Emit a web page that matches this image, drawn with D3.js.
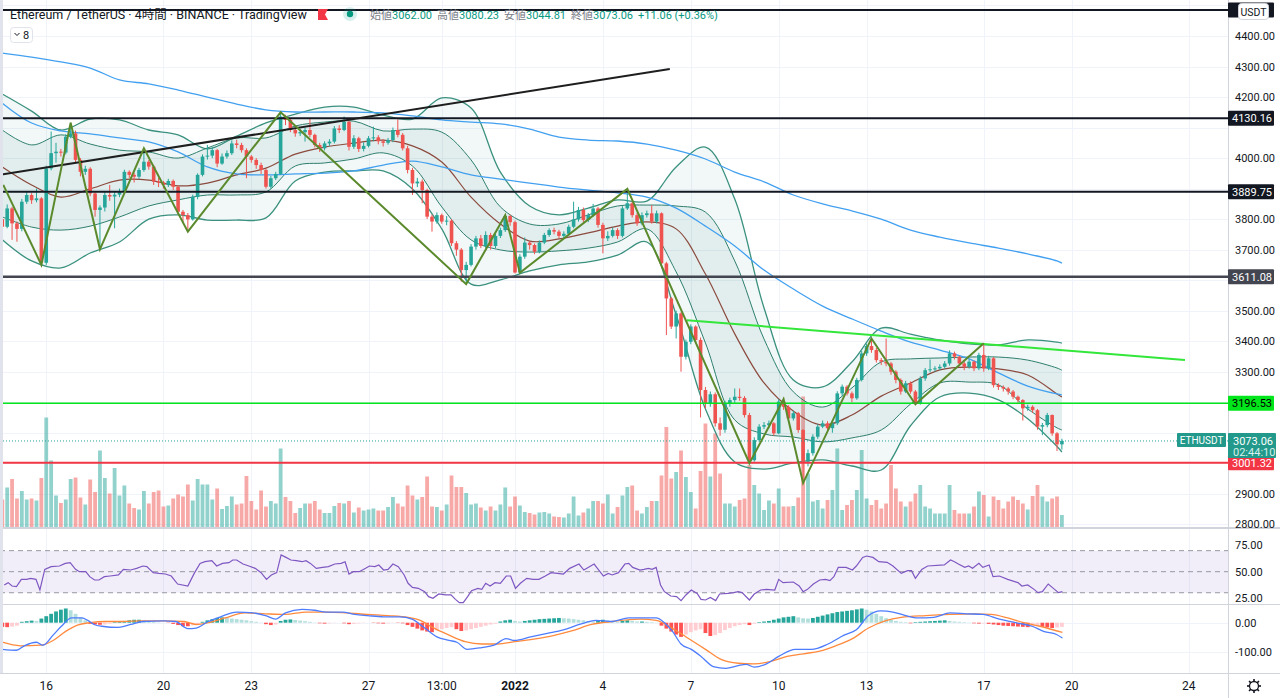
<!DOCTYPE html>
<html>
<head>
<meta charset="utf-8">
<script src="https://cdn.jsdelivr.net/npm/d3@7"></script>
<style>
  body { margin: 0; background: #fff; }
  svg { display: block; font-family: Roboto, "Noto Sans", "Noto Sans CJK JP", sans-serif; }
</style>
</head>
<body>
<svg id="chart" width="1280" height="698"></svg>
<script>
// ---- ETHUSDT 4h candles, Dec 14 2021 -> Jan 19 2022 (open = previous close) ----
const firstOpen = 3800;
const closes = [
  3775,3835,3786,3768,3857,3879,3862,3868,3657,3966,
  4016,4021,4018,4070,4081,3994,3955,3965,3884,3830,
  3838,3879,3874,3880,3890,3955,3945,3939,3961,3988,
  3972,3923,3920,3912,3925,3906,3824,3813,3799,3873,
  3945,4005,4008,4026,3982,4005,4016,4048,4043,4026,
  4005,3994,3977,3961,3906,3934,3948,4136,4125,4092,
  4081,4085,4092,4076,4043,4032,4048,4054,4097,4092,
  4119,4037,4065,4030,4040,4065,4068,4055,4050,4059,
  4092,4076,4032,3961,3917,3923,3895,3808,3792,3813,
  3792,3795,3721,3700,3633,3650,3710,3737,3712,3748,
  3712,3745,3764,3810,3790,3625,3677,3723,3715,3693,
  3723,3748,3764,3759,3745,3752,3775,3799,3830,3797,
  3813,3835,3781,3737,3745,3764,3745,3835,3852,3813,
  3786,3813,3819,3792,3819,3655,3540,3448,3491,3349,
  3398,3448,3404,3240,3196,3226,3131,3110,3196,3207,
  3218,3214,3158,3010,3076,3120,3125,3131,3098,3202,
  3185,3147,3164,3109,3005,3033,3087,3120,3131,3115,
  3131,3229,3251,3229,3213,3273,3360,3384,3371,3338,
  3333,3327,3300,3273,3235,3262,3235,3196,3278,3305,
  3308,3311,3316,3327,3360,3349,3327,3316,3333,3311,
  3355,3311,3344,3256,3250,3245,3235,3218,3207,3180,
  3185,3174,3120,3125,3158,3098,3062,3073.06
];
const highs = [
  3815,3848,3840,3792,3866,3890,3885,3900,3872,3975,
  4087,4050,4030,4078,4116,4090,4000,3975,3970,3890,
  3845,3890,3912,3892,3900,3962,3960,3952,3968,4032,
  3994,3978,3935,3925,3932,3930,3910,3830,3820,3880,
  3950,4012,4043,4035,4030,4015,4025,4058,4060,4050,
  4032,4010,4000,3985,3965,3942,3955,4150,4142,4130,
  4098,4095,4100,4130,4080,4050,4055,4062,4105,4108,
  4136,4125,4075,4070,4052,4072,4103,4075,4062,4066,
  4100,4127,4082,4040,3968,3935,3930,3900,3815,3822,
  3818,3810,3800,3728,3705,3660,3718,3745,3748,3760,
  3755,3752,3772,3815,3815,3795,3685,3740,3728,3720,
  3730,3755,3770,3772,3765,3760,3782,3857,3840,3838,
  3820,3850,3840,3788,3760,3772,3770,3842,3899,3858,
  3820,3822,3828,3846,3828,3822,3660,3545,3500,3495,
  3405,3455,3452,3412,3250,3235,3232,3150,3205,3215,
  3245,3245,3220,3165,3085,3128,3135,3140,3135,3210,
  3215,3190,3172,3168,3112,3045,3095,3128,3140,3138,
  3138,3236,3258,3256,3235,3280,3368,3392,3409,3378,
  3345,3409,3332,3305,3278,3270,3268,3240,3285,3312,
  3340,3318,3324,3335,3370,3366,3352,3332,3340,3336,
  3362,3393,3352,3348,3262,3255,3250,3240,3222,3210,
  3192,3190,3178,3132,3165,3160,3102,3080.23
];
const lows = [
  3765,3770,3732,3726,3760,3850,3850,3855,3645,3650,
  3960,3985,4005,4012,4065,3985,3940,3945,3875,3808,
  3701,3825,3860,3770,3872,3885,3935,3920,3932,3955,
  3962,3912,3905,3900,3905,3895,3815,3790,3759,3795,
  3865,3940,3995,4000,3970,3978,3998,4010,4032,4018,
  3934,3985,3965,3948,3900,3900,3928,3945,4108,4085,
  4070,4072,4054,4068,4035,4020,4025,4040,4048,4082,
  4088,4025,4030,4020,4022,4035,4055,4045,4038,4044,
  4052,4068,4025,3950,3879,3905,3852,3800,3759,3785,
  3785,3780,3712,3680,3595,3587,3645,3700,3705,3705,
  3700,3705,3738,3758,3778,3622,3620,3670,3700,3685,
  3688,3718,3742,3750,3738,3738,3745,3770,3792,3790,
  3790,3808,3772,3688,3728,3740,3735,3740,3830,3805,
  3778,3780,3805,3785,3786,3645,3420,3440,3409,3300,
  3340,3390,3395,3150,3180,3185,3120,3090,3100,3185,
  3198,3205,3150,3000,3005,3070,3112,3115,3090,3095,
  3175,3140,3140,3100,2935,2990,3025,3080,3115,3108,
  3100,3125,3220,3222,3200,3208,3268,3352,3362,3330,
  3322,3318,3290,3262,3225,3230,3228,3190,3192,3270,
  3298,3300,3305,3310,3320,3340,3318,3305,3310,3302,
  3305,3300,3305,3248,3240,3235,3225,3210,3198,3140,
  3172,3165,3110,3092,3118,3090,3040,3044.81
];
// volume, thousand ETH
const volumes = [
  55,79,96,57,72,55,57,53,98,219,
  133,63,48,55,96,99,59,45,95,70,
  153,98,67,118,63,83,47,38,35,72,
  47,70,73,41,43,57,65,61,85,53,
  96,85,85,55,77,36,42,61,45,47,
  102,52,35,73,41,52,47,157,60,52,
  28,38,47,47,52,35,28,28,42,48,
  47,52,29,39,33,35,37,33,33,40,
  60,47,41,83,63,55,60,101,41,40,
  33,45,103,80,80,68,45,47,39,33,
  41,33,45,79,41,61,43,30,28,25,
  29,30,27,21,20,19,27,61,23,29,
  37,52,52,47,65,27,40,63,80,83,
  33,27,40,52,52,103,200,97,110,153,
  100,70,37,112,207,101,187,107,47,47,
  41,54,57,124,84,67,34,53,47,77,
  41,41,42,59,261,107,51,54,37,54,
  74,157,34,44,54,74,154,57,44,54,
  37,47,124,77,51,41,51,67,84,41,
  37,27,27,27,84,34,27,27,27,41,
  71,64,21,61,54,37,51,61,54,47,
  35,62,84,61,51,57,61,24
];

// ---- overlays, sampled once a day (every 6th bar) plus the last bar ----
const bandIdx = d3.range(0, 217, 6).concat([217]);
const bbOuterUp = [4210,4154,4092,4128,4125,4092,4076,4030,4072,4115,4144,4167,4167,4141,4128,4197,4164,3954,3843,3814,3836,3863,3859,3971,4036,3866,3509,3273,3250,3332,3443,3423,3404,3391,3388,3404,3397,3394];
const bbOuterLo = [3732,3663,3640,3689,3725,3800,3814,3797,3797,3804,3925,3954,3958,3958,3899,3768,3587,3601,3630,3650,3660,3682,3725,3486,3178,3004,2981,3001,3011,2991,2978,3123,3217,3230,3208,3146,3055,3037];
const bbInnerUp = [4092,4043,4076,4046,4026,4020,4000,4033,4066,4066,4105,4118,4121,4089,4095,4085,3994,3840,3784,3784,3814,3843,3846,3843,3823,3663,3407,3234,3184,3247,3332,3342,3345,3348,3348,3338,3312,3305];
const bbInnerLo = [3807,3774,3764,3777,3807,3843,3863,3879,3879,3889,3974,3984,3997,4017,3974,3840,3732,3699,3692,3696,3705,3725,3768,3627,3394,3142,3096,3086,3070,3083,3109,3194,3263,3266,3257,3178,3116,3109];
const bbMid     = [3971,3912,3872,3899,3928,3928,3909,3918,3945,3967,4013,4036,4049,4059,4040,3987,3872,3784,3728,3735,3755,3777,3791,3768,3620,3424,3263,3171,3125,3158,3220,3263,3306,3315,3309,3289,3227,3217];
const maFast    = [4180,4115,4089,4079,4066,4053,4020,3971,3948,3945,3948,3951,3958,3977,3990,3971,3945,3931,3918,3905,3895,3886,3872,3836,3777,3712,3633,3571,3515,3473,3433,3397,3371,3342,3296,3253,3227,3224];
const maSlow    = [4344,4331,4315,4295,4256,4243,4223,4200,4177,4158,4151,4151,4151,4148,4138,4125,4118,4112,4095,4069,4059,4056,4046,4026,3997,3954,3922,3879,3850,3827,3800,3764,3741,3722,3705,3686,3663,3656];

// ---- drawings: [bar index, price] ----
const hLevels = [
  {p: 4485.20, color: '#131722', text: '#fff', w: 2, hidden: true},
  {p: 4130.16, color: '#131722', text: '#fff', w: 2},
  {p: 3889.75, color: '#131722', text: '#fff', w: 2},
  {p: 3611.08, color: '#434651', text: '#fff', w: 2.5},
  {p: 3196.53, color: '#00e61a', text: '#000', w: 1.5},
  {p: 3001.32, color: '#f23645', text: '#fff', w: 2}
];
const lastPrice = 3073.06;
const blackTrend = [[-0.47, 3945], [136.7, 4292]];
const greenTrend = [[140.2, 3469], [242.2, 3338]];
const zigzag = [[0.2,3912],[8,3650],[14,4116],[20,3701],[29,4032],[38,3759],[57,4150],[95,3587],[103,3813],[106,3624],
  [128,3899],[153,3000],[160,3210],[164,2935],[178,3409],[187,3193],[201,3393]];

// ---- RSI(14) [bar, value] ----
const rsi = [[0.4,37.4],[1.2,39.6],[2,36.4],[2.9,35.8],[3.9,42.7],[5,42.7],[5.8,43.7],[6.9,42.7],[7.7,32.6],[8.7,52.2],
  [10,54.8],[11.7,55.4],[12.9,57.9],[13.9,58.6],[15,52.2],[15.8,50],[17.1,50],[17.9,45.3],[18.9,42.1],[19.8,42.1],
  [20.9,45.3],[22.1,45.9],[23.8,46.9],[24.8,52.2],[26.3,51.6],[27.5,53.2],[28.8,55.4],[29.6,54.8],[30.9,49.1],[32.1,48.4],
  [33.4,47.8],[34.6,45.9],[35.9,38.3],[38,36.4],[39.3,48.4],[40.5,57.9],[41.5,59.5],[42.9,60.5],[43.9,55.4],[45.1,57.9],
  [46.4,58.6],[47.2,61.1],[48,61.1],[49.3,57.3],[50.5,55.4],[51.8,53.2],[53,49.1],[54.1,42.7],[55.1,46.9],[56.2,49.1],
  [57.1,65.9],[58.1,63.6],[59.1,61.1],[60.2,60.5],[61.4,59.5],[62.2,60.5],[63.1,57.9],[64.3,53.2],[65.6,54.1],[66.8,54.8],
  [68.1,57.3],[69.4,57.9],[70.2,59.5],[71,47.8],[71.9,50],[73.1,50],[74.4,53.2],[75.2,55.4],[76.3,54.8],[77.1,56.4],
  [78.1,51.6],[79,52.2],[80,57.3],[81.1,54.8],[82.3,46.9],[83.1,39],[84,35.1],[85.2,34.2],[86.5,31],[87.3,26.3],
  [88.2,24.7],[89.4,28.8],[90.7,27.9],[91.9,27.9],[92.8,23.7],[93.6,20.6],[94.4,20.6],[95.3,26.3],[96.1,32],[97.4,34.2],
  [98.2,33.2],[99,39],[99.9,36.4],[100.9,39.6],[102,39],[103.2,45.9],[104.1,45.9],[105.1,34.2],[106.1,39],[107.4,43.7],
  [108.7,42.7],[109.9,42.7],[111.2,45.9],[112.4,49.1],[113.7,48.4],[114.9,47.8],[116.2,53.2],[118.1,57.3],[119.1,51.6],[121.2,57.3],
  [123.1,45.9],[124.1,48.4],[124.9,46.9],[126.2,49.1],[127.5,57.3],[128.3,57.9],[129.1,54.1],[130.6,51.6],[131.4,52.2],[132.3,53.2],
  [133.1,52.2],[133.9,54.1],[134.8,37.4],[135.6,31],[136.9,26.9],[138.1,26.3],[139,22.5],[140,27.9],[141.1,32.6],[142.3,29.4],
  [143.1,23.7],[144,23.1],[145,25.6],[146.1,22.5],[146.9,28.8],[148.6,29.4],[149.8,30.1],[150.7,31],[151.5,30.1],[153,23.1],
  [154,28.8],[155.3,32.6],[156.5,33.2],[158.2,32.6],[159,42.7],[159.9,39.6],[162,40.2],[163.2,36.4],[164,31],[164.9,33.2],
  [166.1,38.3],[167.4,42.1],[168.6,42.7],[169.5,41.5],[170.3,45.3],[171.2,54.1],[172.8,54.1],[174.1,51.6],[174.9,55.4],[176.2,63.6],
  [177,64.9],[178.3,63.6],[179.5,59.5],[181.2,58.9],[182.4,55.4],[184.1,48.4],[185.4,51],[186.2,51],[187,43.7],[188.3,52.2],
  [189.5,55.4],[192.9,56.4],[194.2,61.1],[195,59.5],[195.8,57.3],[197.1,54.1],[197.9,55.4],[198.7,53.2],[200,57.9],[200.8,54.1],
  [202.1,56.4],[202.9,45.3],[204.2,45.9],[205.9,42.7],[208,39.6],[208.8,36.4],[210,37.4],[211.3,33.2],[212.1,30.1],[213,31],
  [214.2,38.3],[215.5,33.2],[216.3,30.1],[217.1,31]];

// ---- MACD(12,26,9) [bar, value] and histogram per bar ----
const macdLine = [[0,-90],[2.9,-93],[4.5,-78],[7,-66],[8.3,-76],[10.4,-42],[12.1,-12],[14.2,16],[16.3,16],[17.5,8],
  [18.8,-6],[20.4,-12],[23.8,-16],[26.3,-6],[28.8,4],[33,6],[35.5,4],[38,-20],[39.7,-18],[42.2,4],
  [44.7,20],[48,36],[51.4,33],[53.9,24],[56,12],[58,33],[61.4,45],[63.9,42],[66.4,36],[69.7,36],
  [72.2,28],[74.8,24],[78.1,20],[81.4,20],[83.9,12],[86.5,-18],[89,-48],[91.5,-60],[93.1,-66],[95.2,-90],
  [98.2,-84],[100.7,-76],[103.2,-54],[104.9,-60],[108.2,-48],[111.6,-36],[114.9,-24],[118.2,-6],[121.6,8],[124.9,4],
  [128.3,16],[130.6,16],[133.9,16],[135.6,0],[137.3,-30],[139,-72],[141.1,-90],[143.1,-114],[145.6,-148],[148.2,-154],
  [150.7,-145],[152.3,-141],[154,-150],[156.5,-139],[159,-114],[162.4,-90],[165.7,-90],[169.1,-72],[172.4,-42],[174.9,-24],
  [177.4,24],[179.9,40],[182.4,36],[185,24],[187.5,16],[190.8,18],[194.1,33],[197.5,30],[200.8,28],[204.2,12],
  [207.5,0],[210.9,-12],[213.4,-30],[215.9,-40],[217.1,-52]];
const signalLine = [[0,-66],[3.7,-78],[7.9,-76],[10.4,-60],[12.9,-30],[15.4,-8],[17.9,0],[21.3,4],[24.6,4],[28.8,6],
  [33,6],[37.2,4],[39.7,-6],[42.2,0],[45.6,16],[49.7,33],[53.9,30],[58,28],[62.2,36],[66.4,36],
  [70.5,33],[74.8,28],[79,24],[83.1,18],[85.6,8],[88.1,-16],[91.5,-42],[94.8,-64],[98.2,-72],[101.5,-72],
  [104.9,-64],[108.2,-57],[112.4,-45],[116.6,-28],[120.7,-6],[124.9,4],[130.6,12],[133.9,8],[137.3,-20],[140.6,-54],
  [144,-90],[147.3,-125],[150.7,-137],[154,-139],[157.4,-131],[160.7,-114],[164.1,-105],[167.4,-96],[170.7,-78],[174.1,-54],
  [177.4,-18],[180.8,6],[184.1,18],[189.1,24],[194.1,28],[199.2,30],[202.5,28],[205.9,16],[209.2,0],[212.5,-12],
  [217.1,-33]];
const macdHist = [
  -14,-15,-13,-10,3,5,7,6,14,22,30,38,44,48,42,30,18,8,-4,-6,
  -7,-6,-3,2,4,6,8,10,10,8,6,3,1,0,-1,-4,-8,-12,-12,-9,
  -5,3,8,12,16,18,17,14,12,10,8,5,3,1,-5,-8,-6,6,10,11,
  9,7,5,3,1,-2,-3,-2,-1,0,-2,-5,-4,-2,-1,0,-1,-2,-3,-2,
  -1,-1,-2,-8,-14,-20,-26,-30,-32,-26,-22,-18,-15,-22,-28,-26,-22,-18,-14,-10,
  -6,-3,4,8,10,6,4,6,8,10,12,13,14,15,16,15,14,12,10,8,
  6,4,6,10,8,5,3,6,8,6,4,4,3,2,1,-10,-20,-30,-40,-48,
  -40,-32,-26,-22,-35,-45,-42,-35,-25,-18,-12,-8,-5,-8,-3,2,4,6,10,14,
  18,20,22,18,15,14,16,20,24,28,32,36,38,40,42,45,48,44,38,30,
  22,15,10,6,3,2,-2,2,3,4,5,6,7,8,6,4,3,2,1,-2,
  -3,-2,-4,-6,-8,-10,-11,-12,-13,-14,-15,-12,-10,-14,-16,-18,-16,-14
];

// ---- axis ticks ----
const priceTicks = d3.range(2800, 4501, 100);
const timeTicks = [
  {i: 9, t: '16'}, {i: 33, t: '20'}, {i: 51, t: '23'}, {i: 75, t: '27'}, {i: 90, t: '13:00'},
  {i: 105, t: '2022', bold: true}, {i: 123, t: '4'}, {i: 141, t: '7'}, {i: 159, t: '10'},
  {i: 177, t: '13'}, {i: 201, t: '17'}, {i: 219, t: '20'}, {i: 243, t: '24'}
];
const rsiLevels = [70, 50, 30];
const macdTicks = [0, -100];

// ---------------------------------------------------------------------------
const W = 1280, H = 698, axisX = 1228;
const paneMain = {top: 0, bottom: 527}, paneRsi = {top: 529, bottom: 604}, paneMacd = {top: 605, bottom: 673};
const UP = '#26a69a', DOWN = '#ef5350';

const x = d3.scaleLinear().domain([0, 217]).range([2.3, 1061.9]);
const y = d3.scaleLinear().domain([2800, 4400]).range([524.3, 36]);
const yVol = d3.scaleLinear().domain([0, 220]).range([527, 417]);
const yRsi = d3.scaleLinear().domain([25, 75]).range([598, 545.4]);
const yMacd = d3.scaleLinear().domain([-100, 0]).range([652.3, 622.7]);

const svg = d3.select('#chart');
const defs = svg.append('defs');
[['clipMain', paneMain], ['clipRsi', paneRsi], ['clipMacd', paneMacd]].forEach(([id, p]) => {
  defs.append('clipPath').attr('id', id).append('rect')
    .attr('x', 0).attr('y', p.top).attr('width', axisX).attr('height', p.bottom - p.top);
});

svg.append('rect').attr('width', W).attr('height', H).attr('fill', '#fff');

// grid
const grid = svg.append('g').attr('stroke', '#f0f3fa').attr('stroke-width', 1);
timeTicks.forEach(t => {
  grid.append('line').attr('x1', Math.round(x(t.i)) + 0.5).attr('x2', Math.round(x(t.i)) + 0.5)
    .attr('y1', 0).attr('y2', paneMacd.bottom);
});
priceTicks.forEach(p => {
  grid.append('line').attr('x1', 0).attr('x2', axisX).attr('y1', Math.round(y(p)) + 0.5).attr('y2', Math.round(y(p)) + 0.5);
});
macdTicks.forEach(v => {
  grid.append('line').attr('x1', 0).attr('x2', axisX).attr('y1', Math.round(yMacd(v)) + 0.5).attr('y2', Math.round(yMacd(v)) + 0.5);
});

// ---- main pane ----
const main = svg.append('g').attr('clip-path', 'url(#clipMain)');
const opens = closes.map((c, i) => i === 0 ? firstOpen : closes[i - 1]);

// volume
main.append('g').selectAll('rect').data(volumes).enter().append('rect')
  .attr('x', (d, i) => x(i) - 1.9).attr('width', 3.8)
  .attr('y', d => yVol(d)).attr('height', d => yVol(0) - yVol(d))
  .attr('fill', (d, i) => closes[i] >= opens[i] ? 'rgba(38,166,154,0.5)' : 'rgba(239,83,80,0.5)');

// bollinger fills and lines
function bandArea(lo, hi) {
  return d3.area().curve(d3.curveCatmullRom.alpha(0.5))
    .x((d, k) => x(bandIdx[k])).y0((d, k) => y(lo[k])).y1((d, k) => y(hi[k]))(bandIdx);
}
function bandLine(vals) {
  return d3.line().curve(d3.curveCatmullRom.alpha(0.5))
    .x((d, k) => x(bandIdx[k])).y((d, k) => y(vals[k]))(bandIdx);
}
main.append('path').attr('d', bandArea(bbOuterLo, bbOuterUp)).attr('fill', 'rgba(56,160,145,0.07)');
main.append('path').attr('d', bandArea(bbInnerLo, bbInnerUp)).attr('fill', 'rgba(20,120,110,0.07)');
[[bbOuterUp, '#3b917f', 1.3], [bbOuterLo, '#3b917f', 1.3], [bbInnerUp, '#2f7f6f', 1], [bbInnerLo, '#2f7f6f', 1],
 [bbMid, '#8c4a3e', 1.2], [maFast, '#42a0f0', 1.3], [maSlow, '#42a0f0', 1.3]].forEach(([vals, col, sw]) => {
  main.append('path').attr('d', bandLine(vals)).attr('fill', 'none').attr('stroke', col).attr('stroke-width', sw);
});

// candles
const candles = main.append('g');
closes.forEach((c, i) => {
  const o = opens[i], col = c >= o ? UP : DOWN, cx = x(i);
  candles.append('line').attr('x1', cx).attr('x2', cx).attr('y1', y(highs[i])).attr('y2', y(lows[i]))
    .attr('stroke', col).attr('stroke-width', 1);
  const top = y(Math.max(o, c)), bot = y(Math.min(o, c));
  candles.append('rect').attr('x', cx - 1.8).attr('width', 3.6)
    .attr('y', top).attr('height', Math.max(1, bot - top)).attr('fill', col);
});

// last price dotted line
main.append('line').attr('x1', 0).attr('x2', axisX).attr('y1', y(lastPrice)).attr('y2', y(lastPrice))
  .attr('stroke', '#26a69a').attr('stroke-width', 1).attr('stroke-dasharray', '1,2');

// horizontal levels
hLevels.forEach(l => {
  main.append('line').attr('x1', 0).attr('x2', axisX).attr('y1', y(l.p)).attr('y2', y(l.p))
    .attr('stroke', l.color).attr('stroke-width', l.w);
});
// trend lines and zigzag
const seg = d3.line().x(d => x(d[0])).y(d => y(d[1]));
main.append('path').attr('d', seg(blackTrend)).attr('stroke', '#1e1e1e').attr('stroke-width', 2).attr('fill', 'none');
main.append('path').attr('d', seg(greenTrend)).attr('stroke', '#33e63a').attr('stroke-width', 2).attr('fill', 'none');
main.append('path').attr('d', seg(zigzag)).attr('stroke', '#5b8a2c').attr('stroke-width', 2).attr('fill', 'none');

// ---- RSI pane ----
const rp = svg.append('g').attr('clip-path', 'url(#clipRsi)');
rp.append('rect').attr('x', 0).attr('width', axisX).attr('y', yRsi(70)).attr('height', yRsi(30) - yRsi(70))
  .attr('fill', 'rgba(126,87,194,0.1)');
rsiLevels.forEach(v => {
  rp.append('line').attr('x1', 0).attr('x2', axisX).attr('y1', yRsi(v)).attr('y2', yRsi(v))
    .attr('stroke', '#9598a1').attr('stroke-width', 1).attr('stroke-dasharray', '5,4');
});
rp.append('path').attr('d', d3.line().x(d => x(d[0])).y(d => yRsi(d[1]))(rsi))
  .attr('fill', 'none').attr('stroke', '#7e57c2').attr('stroke-width', 1.2);

// ---- MACD pane ----
const mp = svg.append('g').attr('clip-path', 'url(#clipMacd)');
mp.append('g').selectAll('rect').data(macdHist).enter().append('rect')
  .attr('x', (d, i) => x(i) - 1.9).attr('width', 3.8)
  .attr('y', d => yMacd(Math.max(0, d))).attr('height', d => Math.abs(yMacd(d) - yMacd(0)))
  .attr('fill', (d, i) => {
    const prev = i > 0 ? macdHist[i - 1] : d;
    if (d >= 0) return d >= prev ? '#26a69a' : '#b2dfdb';
    return d <= prev ? '#ff5252' : '#ffcdd2';
  });
mp.append('path').attr('d', d3.line().curve(d3.curveMonotoneX).x(d => x(d[0])).y(d => yMacd(d[1]))(signalLine))
  .attr('fill', 'none').attr('stroke', '#ff8a3d').attr('stroke-width', 1.3);
mp.append('path').attr('d', d3.line().curve(d3.curveMonotoneX).x(d => x(d[0])).y(d => yMacd(d[1]))(macdLine))
  .attr('fill', 'none').attr('stroke', '#4d7cfe').attr('stroke-width', 1.3);

// ---- pane separators ----
const sep = svg.append('g').attr('stroke', '#d1d4dc');
sep.append('line').attr('x1', 0).attr('x2', W).attr('y1', 528).attr('y2', 528).attr('stroke-width', 2);
sep.append('line').attr('x1', 0).attr('x2', W).attr('y1', 604.5).attr('y2', 604.5);
sep.append('line').attr('x1', 0).attr('x2', W).attr('y1', 673.5).attr('y2', 673.5);
sep.append('line').attr('x1', axisX + 0.5).attr('x2', axisX + 0.5).attr('y1', 0).attr('y2', H);
sep.append('line').attr('x1', 1.5).attr('x2', 1.5).attr('y1', 0).attr('y2', 673).attr('stroke', '#e0e3eb').attr('stroke-width', 3);

// ---- right axis ----
const ax = svg.append('g').attr('font-size', 11).attr('fill', '#131722');
// tick labels that would sit under a price tag are left out, as TradingView does
const tagYs = hLevels.map(l => y(l.p)).concat([y(4485.2) - 4]);
priceTicks.forEach(p => {
  const py = y(p);
  const underTag = tagYs.some(t => Math.abs(t - py) < 12) || (py > y(lastPrice) - 12 && py < y(lastPrice) + 21);
  if (underTag) return;
  ax.append('text').attr('x', 1235).attr('y', py + 4).text(p.toFixed(2));
});
[75, 50, 25].forEach(v => ax.append('text').attr('x', 1235).attr('y', yRsi(v) + 4).text(v.toFixed(2)));
macdTicks.forEach(v => ax.append('text').attr('x', 1235).attr('y', yMacd(v) + 4).text(v.toFixed(2)));

function axisTag(l) {
  const g = ax.append('g');
  g.append('rect').attr('x', axisX).attr('y', y(l.p) - 7.5).attr('width', 46).attr('height', 15).attr('rx', 1).attr('fill', l.color);
  if (!l.hidden) g.append('text').attr('x', 1232).attr('y', y(l.p) + 4).attr('fill', l.text).text(l.p.toFixed(2));
}
hLevels.forEach(axisTag);

// last price tag
const lp = ax.append('g');
lp.append('rect').attr('x', 1177).attr('y', y(lastPrice) - 8).attr('width', 49).attr('height', 14).attr('rx', 1).attr('fill', '#22998a');
lp.append('text').attr('x', 1201.5).attr('y', y(lastPrice) + 3).attr('text-anchor', 'middle').attr('fill', '#fff').attr('font-size', 10).text('ETHUSDT');
lp.append('rect').attr('x', axisX).attr('y', y(lastPrice) - 8).attr('width', 48).attr('height', 25).attr('rx', 1).attr('fill', '#22998a');
lp.append('text').attr('x', 1233).attr('y', y(lastPrice) + 4).attr('fill', '#fff').text(lastPrice.toFixed(2));
lp.append('text').attr('x', 1233).attr('y', y(lastPrice) + 15).attr('fill', '#d6f0ec').text('02:44:10');

// currency box
const cur = ax.append('g');
cur.append('rect').attr('x', 1238.5).attr('y', 3.5).attr('width', 30).attr('height', 16).attr('rx', 3)
  .attr('fill', '#fff').attr('stroke', '#d1d4dc');
cur.append('text').attr('x', 1253.5).attr('y', 15.5).attr('text-anchor', 'middle').attr('font-size', 10.5).text('USDT');

// ---- time axis ----
const tx = svg.append('g').attr('font-size', 12).attr('fill', '#131722');
timeTicks.forEach(t => {
  tx.append('text').attr('x', x(t.i)).attr('y', 690).attr('text-anchor', 'middle')
    .attr('font-weight', t.bold ? 'bold' : null).text(t.t);
});
// settings gear
const gear = svg.append('g').attr('transform', 'translate(1254,686)').attr('stroke', '#131722').attr('fill', 'none');
gear.append('circle').attr('r', 4.5).attr('stroke-width', 1.3);
d3.range(8).forEach(k => {
  const a = k * Math.PI / 4;
  gear.append('line').attr('x1', Math.cos(a) * 4.5).attr('y1', Math.sin(a) * 4.5)
    .attr('x2', Math.cos(a) * 7).attr('y2', Math.sin(a) * 7).attr('stroke-width', 1.6);
});

// ---- header ----
const hd = svg.append('g');
hd.append('text').attr('x', 10).attr('y', 19).attr('font-size', 12.5).attr('fill', '#131722')
  .text('Ethereum / TetherUS · 4時間 · BINANCE · TradingView');
hd.append('path').attr('d', 'M318,9 h10 l-3,5.5 l3,5.5 h-10 z').attr('fill', '#f23645');
hd.append('circle').attr('cx', 350).attr('cy', 14).attr('r', 7).attr('fill', 'rgba(38,166,154,0.18)');
hd.append('circle').attr('cx', 350).attr('cy', 14).attr('r', 3.2).attr('fill', '#089981');
const ohlc = hd.append('text').attr('x', 370).attr('y', 18.5).attr('font-size', 11);
[['始値', '3062.00'], ['高値', '3080.23'], ['安値', '3044.81'], ['終値', '3073.06']].forEach(([k, v], n) => {
  ohlc.append('tspan').attr('fill', '#787b86').attr('dx', n ? 5 : 0).text(k);
  ohlc.append('tspan').attr('fill', '#089981').text(v);
});
ohlc.append('tspan').attr('fill', '#089981').attr('dx', 5).text('+11.06 (+0.36%)');

// collapsed indicators button
const btn = hd.append('g');
btn.append('rect').attr('x', 10.5).attr('y', 27.5).attr('width', 22).attr('height', 15).attr('rx', 3)
  .attr('fill', '#fff').attr('stroke', '#e0e3eb');
btn.append('path').attr('d', 'M14.5,33 l2.5,2.5 l2.5,-2.5').attr('fill', 'none').attr('stroke', '#131722').attr('stroke-width', 1);
btn.append('text').attr('x', 23).attr('y', 39).attr('font-size', 11).attr('fill', '#131722').text('8');
</script>
</body>
</html>
